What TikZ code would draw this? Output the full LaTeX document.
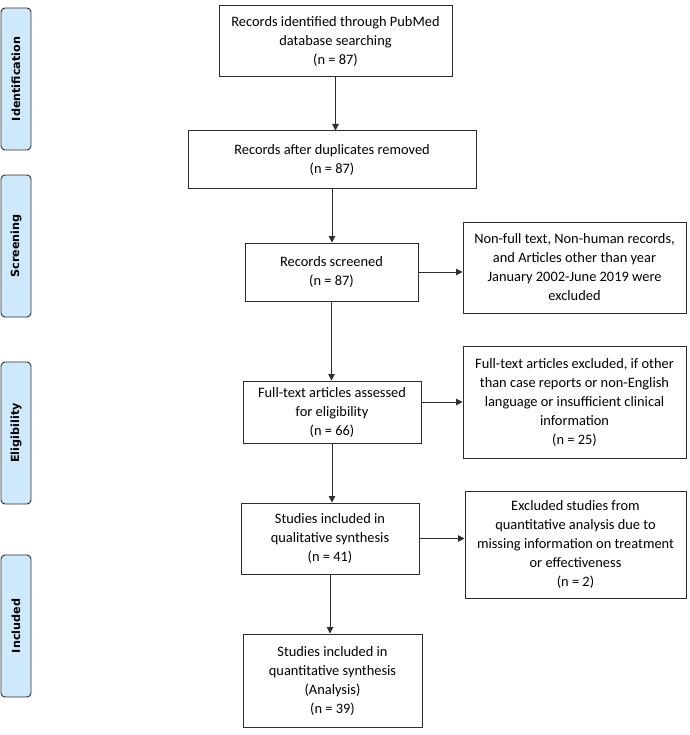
\documentclass[tikz,border=0pt]{standalone}
\usepackage{fontspec}
\setmainfont{Carlito}
\newfontfamily\bandfont{DejaVu Sans}
\usepackage{tikz}
\usetikzlibrary{arrows.meta,calc,positioning}
\definecolor{bandblue}{RGB}{207,233,252}
\definecolor{edgegray}{RGB}{45,45,45}

\begin{document}
\begin{tikzpicture}[x=1pt,y=-1pt,
		box/.style={draw=edgegray,line width=1pt,align=center,inner sep=0pt,font=\fontsize{14.4}{19}\selectfont},
		band/.style={draw=edgegray,fill=bandblue,line width=0.9pt,rounded corners=4pt,rotate=90,minimum width=142pt,minimum height=30pt,inner sep=0pt,font=\bandfont\bfseries\fontsize{11.2}{13}\selectfont},
		arr/.style={-{Triangle[width=6.5pt,length=6.5pt]},line width=1pt,draw=edgegray}]
		\useasboundingbox (0,0) rectangle (689,735);
		\node[band] (identification) at (16,79) {Identification};
		\node[band] (screening) at (16,246) {Screening};
		\node[band] (eligibility) at (16,433) {Eligibility};
		\node[band] (included) at (16,626) {Included};
		\node[box,minimum width=233pt,minimum height=71pt] (found) at (335.5,41.5) {Records identified through PubMed\\database searching\\(n = 87)};
		\node[box,minimum width=288pt,minimum height=58pt] (nodup) at (332,160) {Records after duplicates removed\\(n = 87)};
		\node[box,minimum width=173pt,minimum height=58pt] (screened) at (331.5,272) {Records screened\\(n = 87)};
		\node[box,minimum width=223pt,minimum height=91pt] (outscreen) at (574.5,267.5) {Non-full text, Non-human records,\\and Articles other than year\\January 2002-June 2019 were\\excluded};
		\node[box,minimum width=178pt,minimum height=62pt] (assessed) at (332,412) {Full-text articles assessed\\for eligibility\\(n = 66)};
		\node[box,minimum width=223pt,minimum height=112pt] (outfull) at (574.5,402) {Full-text articles excluded, if other\\than case reports or non-English\\language or insufficient clinical\\information\\(n = 25)};
		\node[box,minimum width=178pt,minimum height=71pt] (qualit) at (330,538.5) {Studies included in\\qualitative synthesis\\(n = 41)};
		\node[box,minimum width=221pt,minimum height=107pt] (outquant) at (575.5,544.5) {Excluded studies from\\quantitative analysis due to\\missing information on treatment\\or effectiveness\\(n = 2)};
		\node[box,minimum width=179pt,minimum height=93pt] (quantit) at (332.5,680.5) {Studies included in\\quantitative synthesis\\(Analysis)\\(n = 39)};
		\draw[arr] (found.south) -- (found.south |- nodup.north);
		\draw[arr] (nodup.south) -- (nodup.south |- screened.north);
		\draw[arr] (screened.south) -- (screened.south |- assessed.north);
		\draw[arr] (assessed.south) -- (assessed.south |- qualit.north);
		\draw[arr] (qualit.south) -- (qualit.south |- quantit.north);
		\draw[arr] (screened.east) -- (screened.east -| outscreen.west);
		\draw[arr] (outfull.west -| assessed.east) -- (outfull.west);
		\draw[arr] (qualit.east) -- (qualit.east -| outquant.west);
		\end{tikzpicture}
\end{document}
